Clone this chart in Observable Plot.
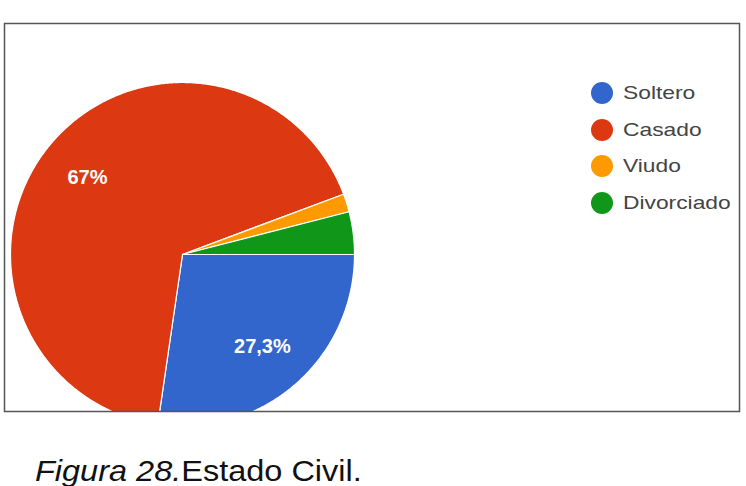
<!DOCTYPE html>
<html>
<head>
<meta charset="utf-8">
<script src="https://cdn.jsdelivr.net/npm/d3@7"></script>
<script src="https://cdn.jsdelivr.net/npm/@observablehq/plot@0.6"></script>
<style>
  html, body { margin: 0; padding: 0; background: #fff; }
  #wrap { position: relative; width: 746px; height: 486px; font-family: "Liberation Sans", Arial, sans-serif; overflow: hidden; }
  #chart { position: absolute; left: 0; top: 0; }
  #legend { position: absolute; left: 591px; top: 75px; }
  .item { display: flex; align-items: center; height: 36.5px; font-size: 19px; color: #444; }
  .sw { width: 22px; height: 22px; border-radius: 50%; margin-right: 10px; flex: none; }
  .lt { display: inline-block; transform: scaleX(1.2); transform-origin: left center; }
  #caption { position: absolute; left: 35px; top: 455px; font-size: 29px; color: #111; white-space: nowrap; transform: scaleX(1.12); transform-origin: left top; }
</style>
</head>
<body>
<div id="wrap">
  <div id="chart"></div>
  <div id="legend"></div>
  <div id="caption"><i>Figura 28.</i>Estado Civil.</div>
</div>
<script>
const categories = ["Soltero", "Casado", "Viudo", "Divorciado"];
const values = [27.3, 67, 1.7, 4.0];
const valueLabels = ["27,3%", "67%", "", ""];
const colors = ["#3366cc", "#dc3912", "#ff9900", "#109618"];

const arcs = d3.pie().sort(null).startAngle(Math.PI / 2).endAngle(Math.PI / 2 + 2 * Math.PI)(values);

const slicePts = [];
arcs.forEach((a, i) => {
  const name = categories[i];
  slicePts.push({slice: name, x: 0, y: 0});
  const n = Math.max(2, Math.ceil((a.endAngle - a.startAngle) / (Math.PI / 360)));
  for (let k = 0; k <= n; k++) {
    const t = a.startAngle + (a.endAngle - a.startAngle) * k / n;
    slicePts.push({slice: name, x: Math.sin(t), y: Math.cos(t)});
  }
  slicePts.push({slice: name, x: 0, y: 0});
});

const labelRows = arcs.map((a, i) => {
  const m = (a.startAngle + a.endAngle) / 2;
  return {text: valueLabels[i], x: 0.71 * Math.sin(m), y: 0.71 * Math.cos(m)};
}).filter(d => d.text);

const R = 172, cx = 182, cy = 254;
const boxL = 4, boxR = 739, boxT = 23, boxB = 411;
const H = 420;

const plot = Plot.plot({
  width: 746,
  height: H,
  marginLeft: boxL,
  marginRight: 746 - boxR,
  marginTop: boxT,
  marginBottom: H - boxB,
  x: {domain: [(boxL - cx) / R, (boxR - cx) / R], axis: null},
  y: {domain: [(cy - boxB) / R, (cy - boxT) / R], axis: null},
  color: {domain: categories, range: colors},
  style: {fontFamily: "Liberation Sans, Arial, sans-serif"},
  marks: [
    Plot.line(slicePts, {x: "x", y: "y", z: "slice", fill: "slice", stroke: "white", strokeWidth: 1.2, clip: "frame", curve: "linear"}),
    Plot.text(labelRows, {x: "x", y: "y", text: "text", fill: "white", fontWeight: "bold", fontSize: 20}),
    Plot.frame({stroke: "#555", strokeWidth: 1.5})
  ]
});
document.getElementById("chart").appendChild(plot);

const legend = document.getElementById("legend");
categories.forEach((c, i) => {
  const d = document.createElement("div");
  d.className = "item";
  d.innerHTML = `<span class="sw" style="background:${colors[i]}"></span><span class="lt">${c}</span>`;
  legend.appendChild(d);
});
</script>
</body>
</html>
